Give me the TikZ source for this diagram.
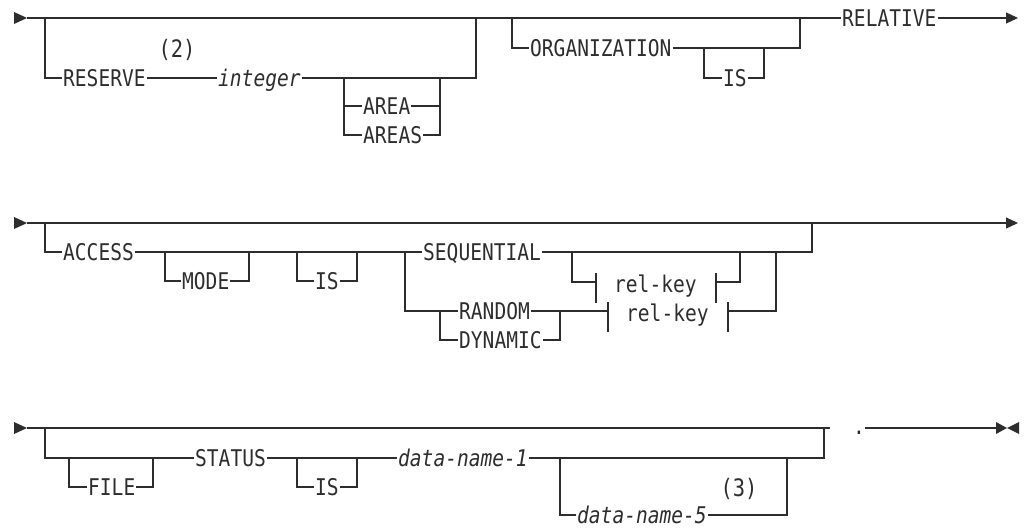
\documentclass[tikz,border=0pt]{standalone}
\usepackage{fontspec}
\newfontfamily\synfont[FakeStretch=0.85]{DejaVu Sans Mono}
\usetikzlibrary{arrows.meta}
\definecolor{railgray}{RGB}{45,45,45}

\begin{document}
\begin{tikzpicture}[x=1pt, y=-1pt,
    rail/.style={draw=railgray, line width=1.1pt},
    kw/.style={anchor=west, inner xsep=1pt, inner ysep=0pt, text height=16.8pt, text depth=0pt, text=railgray, font={\synfont\fontsize{23pt}{23pt}\selectfont}},
    var/.style={kw, font={\synfont\itshape\fontsize{23pt}{23pt}\selectfont}},
    note/.style={kw, anchor=center, font={\synfont\fontsize{24pt}{24pt}\selectfont}},
    endarr/.style={-{Triangle[length=12pt, width=11pt]}}
]
\useasboundingbox (0,0) rectangle (1024,527);

% row 1: reserve / organization
\coordinate (s1) at (27,18);
\coordinate (j1) at (45,18);
\node[kw] (reserve) at (62,78) {RESERVE};
\node[note] (n2) at (177,49) {(2)};
\node[var] (integer) at (217,78) {integer};
\coordinate (a1) at (344,78);
\node[kw] (area) at (362,106) {AREA};
\node[kw] (areas) at (362,135) {AREAS};
\coordinate (a2) at (440,78);
\coordinate (k1) at (476,18);
\coordinate (o1) at (512,18);
\node[kw] (org) at (529,48) {ORGANIZATION};
\coordinate (i1) at (704,48);
\node[kw] (is1) at (722,78) {IS};
\coordinate (i2) at (764,48);
\coordinate (o2) at (800,18);
\node[kw] (relative) at (841,18) {RELATIVE};
\coordinate (e1) at (1018,18);

\fill[railgray] (s1) -- ++(-13,-6) -- ++(0,12) -- cycle;
\draw[rail] (s1) -- (relative.west);
\draw[rail] (j1) |- (reserve.west);
\draw[rail] (reserve.east) -- (integer.west);
\draw[rail] (integer.east) -| (k1);
\draw[rail] (a1) |- (area.west);
\draw[rail] (a1) |- (areas.west);
\draw[rail] (area.east) -| (a2);
\draw[rail] (areas.east) -| (a2);
\draw[rail] (o1) |- (org.west);
\draw[rail] (org.east) -| (o2);
\draw[rail] (i1) |- (is1.west);
\draw[rail] (is1.east) -| (i2);
\draw[rail, endarr] (relative.east) -- (e1);

% row 2: access mode
\coordinate (s2) at (27,223);
\coordinate (j2) at (45,223);
\node[kw] (access) at (62,252) {ACCESS};
\coordinate (m1) at (165,252);
\node[kw] (mode) at (181,281) {MODE};
\coordinate (m2) at (249,252);
\coordinate (i3) at (297,252);
\node[kw] (is2) at (314,281) {IS};
\coordinate (i4) at (357,252);
\coordinate (q1) at (405,252);
\node[kw] (seq) at (422,252) {SEQUENTIAL};
\coordinate (sb) at (572,252);
\coordinate (t1) at (596,282);
\node[kw] (relkey1) at (613,284) {rel-key};
\coordinate (t2) at (716,282);
\coordinate (q3) at (740,252);
\coordinate (q2) at (812,223);
\coordinate (d1) at (440,311);
\node[kw] (random) at (458,311) {RANDOM};
\node[kw] (dynamic) at (458,340) {DYNAMIC};
\coordinate (d2) at (560,311);
\coordinate (t3) at (608,311);
\node[kw] (relkey2) at (625,313) {rel-key};
\coordinate (t4) at (728,311);
\coordinate (q4) at (776,252);
\coordinate (e2) at (1018,223);

\fill[railgray] (s2) -- ++(-13,-6) -- ++(0,12) -- cycle;
\draw[rail, endarr] (s2) -- (e2);
\draw[rail] (j2) |- (access.west);
\draw[rail] (access.east) -- (seq.west);
\draw[rail] (seq.east) -| (q2);
\draw[rail] (m1) |- (mode.west);
\draw[rail] (mode.east) -| (m2);
\draw[rail] (i3) |- (is2.west);
\draw[rail] (is2.east) -| (i4);
\draw[rail] (sb) |- (t1);
\draw[rail] (t2) -| (q3);
\draw[rail] (q1) |- (random.west);
\draw[rail] (d1) |- (dynamic.west);
\draw[rail] (dynamic.east) -| (d2);
\draw[rail] (random.east) -- (t3);
\draw[rail] (t4) -| (q4);
\foreach \t in {t1,t2,t3,t4}
  \draw[rail] (\t) ++(0,-9) -- ++(0,30);

% row 3: file status
\coordinate (s3) at (27,428);
\coordinate (j3) at (45,428);
\coordinate (f1) at (69,458);
\node[kw] (file) at (87,487) {FILE};
\coordinate (f2) at (153,458);
\node[kw] (status) at (194,458) {STATUS};
\coordinate (i5) at (297,458);
\node[kw] (is3) at (314,487) {IS};
\coordinate (i6) at (357,458);
\node[var] (dn1) at (397,458) {data-name-1};
\coordinate (u1) at (560,458);
\node[var] (dn5) at (576,515) {data-name-5};
\node[note] (n3) at (739,488) {(3)};
\coordinate (u2) at (787,458);
\coordinate (u3) at (824,428);
\coordinate (c3) at (830,428);
\node[kw, anchor=center] (dot) at (859,426) {.};
\coordinate (c4) at (865,428);
\coordinate (c5) at (996,428);
\coordinate (c6) at (1019,428);

\fill[railgray] (s3) -- ++(-13,-6) -- ++(0,12) -- cycle;
\draw[rail] (s3) -- (c3);
\draw[rail] (j3) |- (status.west);
\draw[rail] (f1) |- (file.west);
\draw[rail] (file.east) -| (f2);
\draw[rail] (status.east) -- (dn1.west);
\draw[rail] (i5) |- (is3.west);
\draw[rail] (is3.east) -| (i6);
\draw[rail] (dn1.east) -| (u3);
\draw[rail] (u1) |- (dn5.west);
\draw[rail] (dn5.east) -| (u2);
\draw[rail] (c4) -- (c5);
\draw[railgray, line width=2pt] (c4) -- ++(23,0);
\fill[railgray] (c5) ++(0,-6) -- ++(11,6) -- ++(-11,6) -- cycle;
\fill[railgray] (c6) ++(0,-6) -- ++(-12,6) -- ++(12,6) -- cycle;
\end{tikzpicture}
\end{document}
